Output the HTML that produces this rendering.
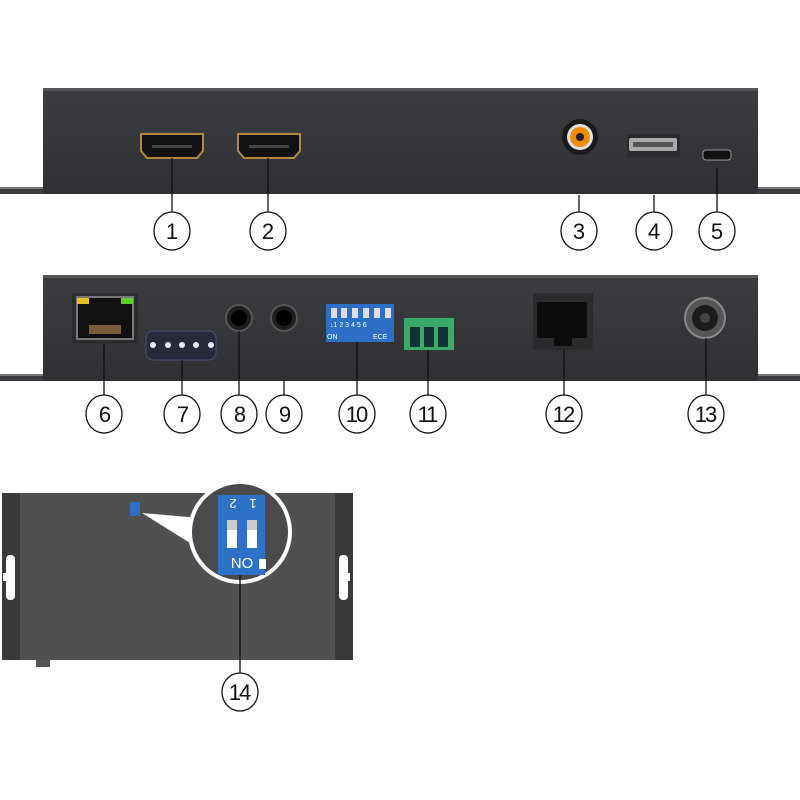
<!DOCTYPE html>
<html><head><style>body{margin:0;background:#fff}svg{display:block}</style></head><body>
<svg width="800" height="800" viewBox="0 0 800 800" xmlns="http://www.w3.org/2000/svg" font-family="'Liberation Sans',sans-serif">
<defs>
<linearGradient id="pn" x1="0" y1="0" x2="0" y2="1"><stop offset="0" stop-color="#3c3d40"/><stop offset="1" stop-color="#2f3033"/></linearGradient>
</defs>
<!-- Top panel -->
<rect x="0" y="187" width="800" height="7" fill="#3a3b3e"/>
<rect x="0" y="187" width="800" height="2" fill="#777"/>
<rect x="43" y="88" width="715" height="106" rx="3" fill="url(#pn)"/>
<rect x="43" y="88" width="715" height="3" fill="#55565a"/>
<!-- HDMI -->
<path d="M141,134 H203 V151 L197,158 H147 L141,151 Z" fill="#111" stroke="#b08a3c" stroke-width="2"/>
<rect x="152" y="145" width="40" height="3" fill="#444"/>
<path d="M238,134 H300 V151 L294,158 H244 L238,151 Z" fill="#111" stroke="#b08a3c" stroke-width="2"/>
<rect x="249" y="145" width="40" height="3" fill="#444"/>
<!-- RCA -->
<circle cx="580" cy="137" r="18" fill="#1a1a1a"/>
<circle cx="580" cy="137" r="13" fill="#e0e0e0"/>
<circle cx="580" cy="137" r="10" fill="#f08a00"/>
<circle cx="580" cy="137" r="4" fill="#222"/>
<!-- USB -->
<rect x="627" y="134" width="53" height="23" fill="#2a2b2d"/>
<rect x="629" y="138" width="48" height="13" rx="2" fill="#aaa"/>
<rect x="633" y="142" width="40" height="5" fill="#555"/>
<rect x="703" y="150" width="28" height="10" rx="3" fill="#111" stroke="#999"/>
<!-- leaders top -->
<g stroke="#111" stroke-width="1.3">
<line x1="172" y1="158" x2="172" y2="212"/><line x1="268" y1="158" x2="268" y2="212"/>
<line x1="579" y1="195" x2="579" y2="212"/><line x1="654" y1="195" x2="654" y2="212"/>
<line x1="717" y1="168" x2="717" y2="212"/>
</g>
<g fill="#fff" stroke="#111" stroke-width="1.3">
<ellipse cx="172" cy="231" rx="18" ry="19"/><ellipse cx="268" cy="231" rx="18" ry="19"/>
<ellipse cx="579" cy="231" rx="18" ry="19"/><ellipse cx="654" cy="231" rx="18" ry="19"/><ellipse cx="717" cy="231" rx="18" ry="19"/>
</g>
<g font-size="22" text-anchor="middle" fill="#111">
<text x="172" y="239">1</text><text x="268" y="239">2</text><text x="579" y="239">3</text><text x="654" y="239">4</text><text x="717" y="239">5</text>
</g>
<!-- Bottom panel -->
<rect x="0" y="374" width="800" height="7" fill="#3a3b3e"/>
<rect x="0" y="374" width="800" height="2" fill="#777"/>
<rect x="43" y="275" width="715" height="106" rx="3" fill="url(#pn)"/>
<rect x="43" y="275" width="715" height="3" fill="#55565a"/>
<!-- RJ45 -->
<rect x="72" y="293" width="66" height="50" fill="#2a2b2d"/>
<rect x="77" y="297" width="56" height="42" fill="#111" stroke="#777" stroke-width="2"/>
<rect x="77" y="298" width="12" height="6" fill="#e5c020"/>
<rect x="121" y="298" width="12" height="6" fill="#5fcc30"/>
<rect x="89" y="325" width="32" height="9" fill="#7a5c3a"/>
<!-- LED bar -->
<rect x="146" y="331" width="70" height="29" rx="7" fill="#28293a" stroke="#4a4f78"/>
<g fill="#e6e9ff"><circle cx="153" cy="345" r="3"/><circle cx="168" cy="345" r="3"/><circle cx="182" cy="345" r="3"/><circle cx="196" cy="345" r="3"/><circle cx="211" cy="345" r="3"/></g>
<!-- Jacks -->
<circle cx="239" cy="318" r="13" fill="#1e1e1e" stroke="#555" stroke-width="2"/><circle cx="239" cy="318" r="8" fill="#000"/>
<circle cx="284" cy="318" r="13" fill="#1e1e1e" stroke="#555" stroke-width="2"/><circle cx="284" cy="318" r="8" fill="#000"/>
<!-- DIP -->
<rect x="326" y="304" width="68" height="38" fill="#2d6fc4"/>
<g fill="#dde"><rect x="331" y="308" width="6" height="10"/><rect x="341" y="308" width="6" height="10"/><rect x="352" y="308" width="6" height="10"/><rect x="363" y="308" width="6" height="10"/><rect x="374" y="308" width="6" height="10"/><rect x="385" y="308" width="6" height="10"/></g>
<text x="330" y="327" font-size="7" fill="#fff">↓1 2 3 4 5 6</text>
<text x="327" y="339" font-size="7" fill="#fff">ON</text><text x="373" y="339" font-size="7" fill="#fff">ECE</text>
<!-- terminal -->
<rect x="404" y="318" width="50" height="32" fill="#3aaa6a"/>
<g fill="#133"><rect x="410" y="327" width="10" height="20"/><rect x="424" y="327" width="10" height="20"/><rect x="438" y="327" width="10" height="20"/></g>
<!-- port 12 -->
<rect x="533" y="293" width="60" height="57" fill="#2a2b2d"/>
<rect x="537" y="302" width="50" height="36" fill="#0d0d0d"/>
<rect x="554" y="338" width="18" height="8" fill="#0d0d0d"/>
<!-- power -->
<circle cx="705" cy="318" r="20" fill="#555" stroke="#888" stroke-width="2"/>
<circle cx="705" cy="318" r="13" fill="#1c1c1c"/><circle cx="705" cy="318" r="5" fill="#444"/>
<!-- leaders bottom -->
<g stroke="#111" stroke-width="1.3">
<line x1="104" y1="343" x2="104" y2="395"/><line x1="182" y1="360" x2="182" y2="395"/>
<line x1="239" y1="331" x2="239" y2="395"/><line x1="284" y1="381" x2="284" y2="395"/>
<line x1="357" y1="342" x2="357" y2="395"/><line x1="428" y1="350" x2="428" y2="395"/>
<line x1="564" y1="350" x2="564" y2="395"/><line x1="706" y1="338" x2="706" y2="395"/>
</g>
<g fill="#fff" stroke="#111" stroke-width="1.3">
<ellipse cx="104" cy="414" rx="18" ry="19"/><ellipse cx="182" cy="414" rx="18" ry="19"/><ellipse cx="239" cy="414" rx="18" ry="19"/><ellipse cx="284" cy="414" rx="18" ry="19"/>
<ellipse cx="357" cy="414" rx="18" ry="19"/><ellipse cx="428" cy="414" rx="18" ry="19"/><ellipse cx="564" cy="414" rx="18" ry="19"/><ellipse cx="706" cy="414" rx="18" ry="19"/>
</g>
<g font-size="22" text-anchor="middle" fill="#111" letter-spacing="-2">
<text x="104" y="422">6</text><text x="182" y="422">7</text><text x="239" y="422">8</text><text x="284" y="422">9</text>
<text x="356" y="422">10</text><text x="427" y="422">11</text><text x="563" y="422">12</text><text x="705" y="422">13</text>
</g>
<!-- Top view device -->
<rect x="2" y="493" width="351" height="167" rx="3" fill="#49494c"/>
<rect x="20" y="493" width="315" height="167" fill="#505053"/>
<rect x="2" y="493" width="18" height="167" fill="#3a3a3d"/><rect x="335" y="493" width="18" height="167" fill="#3a3a3d"/>
<rect x="6" y="555" width="9" height="45" rx="4" fill="#fff"/><rect x="339" y="555" width="9" height="45" rx="4" fill="#fff"/>
<rect x="3" y="573" width="3" height="8" fill="#fff"/><rect x="347" y="573" width="3" height="8" fill="#fff"/>
<rect x="36" y="660" width="14" height="7" fill="#555"/>
<rect x="130" y="502" width="10" height="14" fill="#2d6fc4"/>
<polygon points="142,513 200,518 198,548" fill="#fff"/>
<circle cx="240" cy="532" r="50" fill="#4a4a4d" stroke="#fff" stroke-width="4"/>
<rect x="218" y="495" width="47" height="80" fill="#2d72c6"/>
<rect x="227" y="520" width="10" height="28" fill="#fff"/><rect x="247" y="520" width="10" height="28" fill="#fff"/>
<rect x="227" y="520" width="10" height="10" fill="#ccc"/><rect x="247" y="520" width="10" height="10" fill="#ccc"/>
<text x="233" y="507" font-size="13" fill="#fff" text-anchor="middle" transform="rotate(180 233 503)">2</text>
<text x="253" y="507" font-size="13" fill="#fff" text-anchor="middle" transform="rotate(180 253 503)">1</text>
<text x="242" y="568" font-size="15" fill="#fff" text-anchor="middle" transform="rotate(180 242 563)">ON</text>
<rect x="259" y="559" width="7" height="10" fill="#fff"/>
<line x1="240" y1="575" x2="240" y2="673" stroke="#111" stroke-width="1.3"/>
<ellipse cx="240" cy="692" rx="18" ry="19" fill="#fff" stroke="#111" stroke-width="1.3"/>
<text x="239" y="700" font-size="22" text-anchor="middle" fill="#111" letter-spacing="-2">14</text>
</svg>
</body></html>
